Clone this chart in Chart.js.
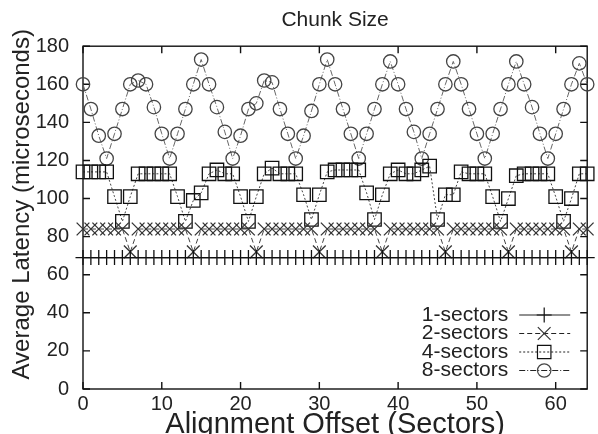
<!DOCTYPE html>
<html><head><meta charset="utf-8">
<script src="https://cdn.jsdelivr.net/npm/chart.js@4.4.0/dist/chart.umd.min.js"></script>
<style>html,body{margin:0;padding:0;background:#fff;}#wrap{width:598px;height:434px;position:relative;}</style>
</head><body><div id="wrap"><canvas id="c"></canvas></div>
<script>
const offsets = [0,1,2,3,4,5,6,7,8,9,10,11,12,13,14,15,16,17,18,19,20,21,22,23,24,25,26,27,28,29,30,31,32,33,34,35,36,37,38,39,40,41,42,43,44,45,46,47,48,49,50,51,52,53,54,55,56,57,58,59,60,61,62,63,64];
const sectors1 = [69,69,69,69,69,69,69,69,69,69,69,69,69,69,69,69,69,69,69,69,69,69,69,69,69,69,69,69,69,69,69,69,69,69,69,69,69,69,69,69,69,69,69,69,69,69,69,69,69,69,69,69,69,69,69,69,69,69,69,69,69,69,69,69,69];
const sectors2 = [84,84,84,84,84,84,72,84,84,84,84,84,84,84,72,84,84,84,84,84,84,84,72,84,84,84,84,84,84,84,72,84,84,84,84,84,84,84,72,84,84,84,84,84,84,84,72,84,84,84,84,84,84,84,72,84,84,84,84,84,84,84,72,84,84];
const sectors4 = [114,114,114,114,101,88,101,113,113,113,113,113,101,88,99,103,113,115,113,113,101,88,101,113,116,113,113,113,102,89,102,114,115,115,115,115,103,89,102,113,115,113,113,115,117,89,102,102,114,113,113,113,101,88,100,112,113,113,113,113,101,88,100,113,113];
const sectors8 = [160,147,133,121,134,147,160,162,160,148,134,121,134,147,160,173,160,148,135,121,133,147,150,162,161,147,134,121,133,146,160,173,160,147,134,121,134,147,160,172,160,147,135,121,134,147,160,172,160,147,134,121,134,147,160,172,160,148,134,121,134,147,160,171,160];
const seriesNames = ['1-sectors','2-sectors','4-sectors','8-sectors'];
const xTicks = [0,10,20,30,40,50,60];
const yTicks = [0,20,40,60,80,100,120,140,160,180];

const FONT = "'Liberation Sans', Arial, Helvetica, sans-serif";
Chart.defaults.font.family = FONT;
Chart.defaults.font.size = 20;
Chart.defaults.color = '#222';

function pts(vals){ return offsets.map((x,i)=>({x:x, y:vals[i]})); }

const frame = {
  id:'frame',
  beforeDatasetsDraw(chart){
    const {ctx, chartArea:a, scales} = chart;
    ctx.save();
    ctx.strokeStyle = '#111'; ctx.lineWidth = 1.4;
    ctx.strokeRect(a.left, a.top, a.right-a.left, a.bottom-a.top);
    ctx.beginPath();
    const L = 7;
    scales.x.ticks.forEach(t=>{
      const px = scales.x.getPixelForValue(t.value);
      ctx.moveTo(px, a.bottom); ctx.lineTo(px, a.bottom-L);
      ctx.moveTo(px, a.top); ctx.lineTo(px, a.top+L);
    });
    scales.y.ticks.forEach(t=>{
      const py = scales.y.getPixelForValue(t.value);
      ctx.moveTo(a.left, py); ctx.lineTo(a.left+L, py);
      ctx.moveTo(a.right, py); ctx.lineTo(a.right-L, py);
    });
    ctx.stroke();
    ctx.restore();
  }
};

const legendBox = {
  id:'legendBox',
  afterDraw(chart){
    const {ctx, chartArea:a} = chart;
    const rows = [74, 55.5, 37, 18.5];
    ctx.save();
    ctx.font = '21px ' + FONT;
    ctx.textAlign = 'right'; ctx.textBaseline = 'middle'; ctx.fillStyle = '#222';
    chart.data.datasets.forEach((ds,i)=>{
      const y = a.bottom - rows[i];
      ctx.fillText(ds.label, a.right - 79, y);
      ctx.beginPath();
      ctx.setLineDash(ds.borderDash || []);
      ctx.lineWidth = 1.2; ctx.strokeStyle = '#222';
      ctx.moveTo(a.right - 68, y); ctx.lineTo(a.right - 17, y); ctx.stroke();
      ctx.setLineDash([]);
      ctx.strokeStyle = ds.pointBorderColor; ctx.fillStyle = 'rgba(0,0,0,0)';
      Chart.helpers.drawPoint(ctx, {pointStyle: ds.pointStyle, radius: ds.pointRadius, borderWidth: ds.pointBorderWidth, rotation: 0}, a.right - 43, y);
      ctx.fillStyle = '#222';
    });
    ctx.restore();
  }
};

function ds(label, vals, style, radius, dash, lineColor, ptColor){
  return {
    label: label, data: pts(vals), showLine: true,
    borderColor: lineColor, borderWidth: 1, borderDash: dash,
    pointStyle: style, pointRadius: radius, pointHoverRadius: radius,
    pointBorderColor: ptColor, pointBackgroundColor: 'rgba(0,0,0,0)', pointBorderWidth: 1.3,
    clip: false, tension: 0
  };
}

new Chart(document.getElementById('c'), {
  type: 'scatter',
  data: { datasets: [
    ds(seriesNames[0], sectors1, 'cross', 7.5, [], '#111', '#111'),
    ds(seriesNames[1], sectors2, 'crossRot', 9, [5,3], '#444', '#333'),
    ds(seriesNames[2], sectors4, 'rect', 9.5, [2,2], '#444', '#111'),
    ds(seriesNames[3], sectors8, 'circle', 6.7, [6,2,1,2], '#666', '#444')
  ]},
  options: {
    responsive: true, maintainAspectRatio: false, animation: false,
    devicePixelRatio: 1,
    layout: { padding: { left: 0, right: 3, top: 0, bottom: 0 } },
    plugins: {
      legend: { display: false },
      tooltip: { enabled: false },
      title: { display: true, text: 'Chunk Size', fullSize: false, color: '#222',
               font: { size: 21, weight: 'normal', lineHeight: 1.2 }, padding: { top: 8, bottom: 13 } }
    },
    scales: {
      x: {
        type: 'linear', min: 0, max: 64,
        afterBuildTicks: s => { s.ticks = xTicks.map(v => ({value: v})); },
        afterFit: s => { s.height = 45; },
        grid: { display: false, drawTicks: false },
        border: { display: false },
        ticks: { padding: 3, color: '#222', font: { size: 20 } },
        title: { display: true, text: 'Alignment Offset (Sectors)', color: '#222',
                 font: { size: 29, lineHeight: 1 }, padding: { top: 0, bottom: -5 } }
      },
      y: {
        type: 'linear', min: 0, max: 180,
        afterBuildTicks: s => { s.ticks = yTicks.map(v => ({value: v})); },
        afterFit: s => { s.width = 83; },
        grid: { display: false, drawTicks: false },
        border: { display: false },
        ticks: { padding: 14, color: '#222', font: { size: 20 } },
        title: { display: true, text: '    Average Latency (microseconds)', color: '#222',
                 font: { size: 24, lineHeight: 1.2 }, padding: { top: 8, bottom: 0 } }
      }
    }
  },
  plugins: [frame, legendBox]
});
</script>
</body></html>
